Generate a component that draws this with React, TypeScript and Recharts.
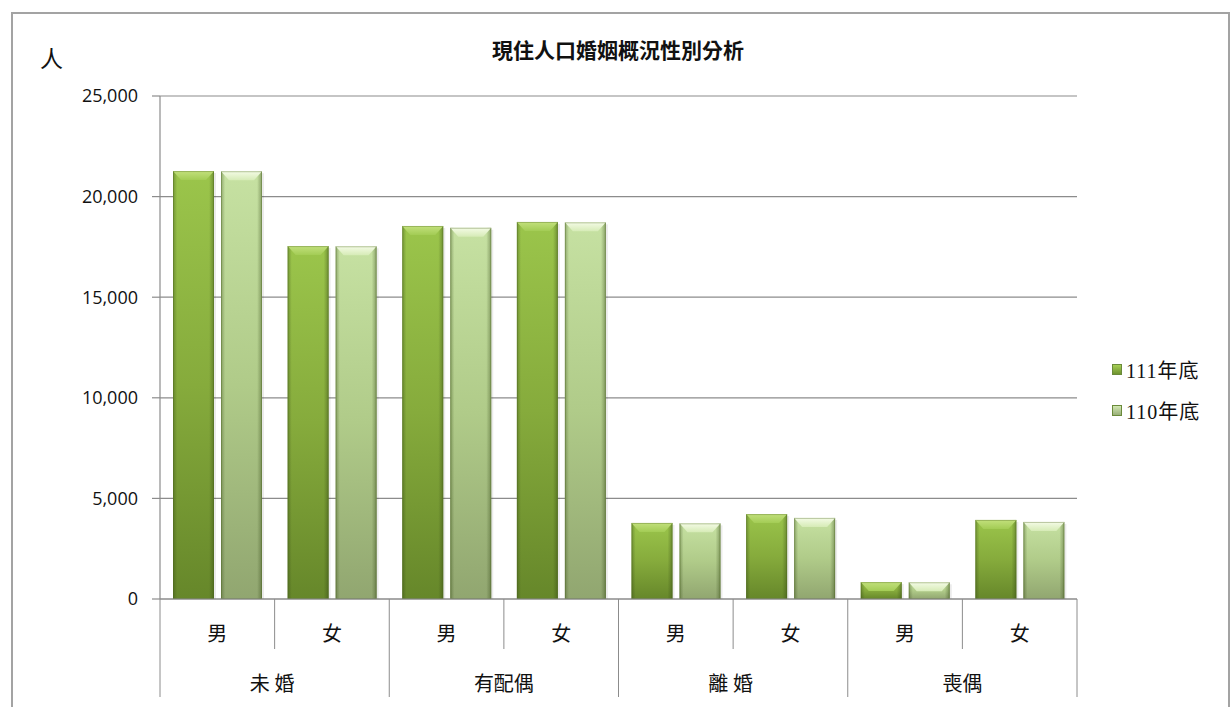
import React from "react";
import { BarChart, Bar, XAxis, YAxis, CartesianGrid, Legend } from "recharts";

const sexLabels = ["男", "女", "男", "女", "男", "女", "男", "女"];
const groupLabels = ["未婚", "未婚", "有配偶", "有配偶", "離婚", "離婚", "喪偶", "喪偶"];
const year111 = [21270, 17540, 18540, 18740, 3780, 4220, 840, 3930];
const year110 = [21260, 17530, 18450, 18720, 3760, 4030, 830, 3830];
const yTicks = [0, 5000, 10000, 15000, 20000, 25000];

const data = sexLabels.map((sex, i) => ({
  key: `${groupLabels[i]}-${sex}-${i}`,
  sex,
  group: groupLabels[i],
  y111: year111[i],
  y110: year110[i],
}));

const GRID = "#8c8c8c";
const CJK = "'Noto Sans CJK TC', 'Noto Sans CJK SC', sans-serif";
const spacedGroups = ["未婚", "離婚"];

function makeBevelBar(kind: string) {
  return (props: any) => {
    const { x, y, width, height } = props;
    if (!height || height <= 0) return <g />;
    const b = Math.min(9, height);
    const inset = Math.min(8, width / 4);
    return (
      <g>
        <rect x={x} y={y} width={width} height={height} fill={`url(#body${kind})`} />
        <rect x={x} y={y} width={width} height={height} fill="url(#sideShade)" />
        <polygon
          points={`${x},${y} ${x + width},${y} ${x + width - inset},${y + b} ${x + inset},${y + b}`}
          fill={`url(#top${kind})`}
        />
        <rect
          x={x + 0.5}
          y={y + 0.5}
          width={width - 1}
          height={height - 1}
          fill="none"
          stroke="#4d6620"
          strokeOpacity={0.35}
        />
        <rect x={x + width} y={y + 2} width={2} height={height - 2} fill="#000" fillOpacity={0.08} />
      </g>
    );
  };
}

function XTick(props: any) {
  const { x, y, payload, index } = props;
  const off = payload && payload.offset ? payload.offset : (1077 - 160) / 16;
  const left = x - off;
  const isGroupStart = index % 2 === 0;
  return (
    <g>
      <line x1={left} y1={y} x2={left} y2={y + (isGroupStart ? 98 : 50)} stroke={GRID} strokeWidth={1} />
      {index === sexLabels.length - 1 && (
        <line x1={x + off} y1={y} x2={x + off} y2={y + 98} stroke={GRID} strokeWidth={1} />
      )}
      <text x={x} y={y + 33} textAnchor="middle" dominantBaseline="central" fontSize={20} fontFamily={CJK} fill="#111">
        {sexLabels[index]}
      </text>
      {index % 2 === 1 && (
        <text
          x={left}
          y={y + 83}
          textAnchor="middle"
          dominantBaseline="central"
          fontSize={20}
          fontFamily={CJK}
          fill="#111"
          letterSpacing={spacedGroups.includes(groupLabels[index]) ? 5 : 0}
        >
          {groupLabels[index]}
        </text>
      )}
    </g>
  );
}

function LegendContent() {
  const items = [
    { label: "111年底", top: "#a6cf55", bottom: "#6f932f" },
    { label: "110年底", top: "#d2e8b2", bottom: "#98ae78" },
  ];
  return (
    <div>
      {items.map((it) => (
        <div key={it.label} style={{ display: "flex", alignItems: "center", height: 41 }}>
          <span
            style={{
              width: 10,
              height: 11,
              marginRight: 4,
              background: `linear-gradient(${it.top}, ${it.bottom})`,
              border: "1px solid #6a8a3a",
              boxSizing: "border-box",
            }}
          />
          <span
            style={{
              fontSize: 20,
              letterSpacing: 1,
              color: "#111",
              fontFamily: "'Liberation Serif', 'Noto Sans CJK TC', serif",
            }}
          >
            {it.label}
          </span>
        </div>
      ))}
    </div>
  );
}

export default function App() {
  return (
    <div
      style={{
        position: "absolute",
        left: 0,
        top: 0,
        width: 1232,
        height: 707,
        overflow: "hidden",
        background: "#fff",
      }}
    >
      <div
        style={{
          position: "absolute",
          left: 11,
          top: 12,
          width: 1215,
          height: 760,
          border: "2px solid #a3a3a3",
        }}
      />
      <div
        style={{
          position: "absolute",
          left: 0,
          width: 1232,
          top: 34,
          textAlign: "center",
          fontSize: 21,
          fontWeight: "bold",
          fontFamily: CJK,
          color: "#111",
          paddingLeft: 2,
        }}
      >
        現住人口婚姻概況性別分析
      </div>
      <div
        style={{
          position: "absolute",
          left: 40,
          top: 40,
          fontSize: 23,
          fontFamily: CJK,
          color: "#111",
        }}
      >
        人
      </div>
      <BarChart
        width={1232}
        height={707}
        data={data}
        margin={{ top: 96, right: 45, bottom: 0, left: 10 }}
        barCategoryGap={13}
        barGap={7}
      >
        <defs>
          <linearGradient id="body111" x1="0" y1="0" x2="0" y2="1">
            <stop offset="0" stopColor="#9bc54b" />
            <stop offset="0.5" stopColor="#86ab3c" />
            <stop offset="1" stopColor="#66872a" />
          </linearGradient>
          <linearGradient id="top111" x1="0" y1="0" x2="0" y2="1">
            <stop offset="0" stopColor="#c2e07c" />
            <stop offset="1" stopColor="#a3cc55" />
          </linearGradient>
          <linearGradient id="body110" x1="0" y1="0" x2="0" y2="1">
            <stop offset="0" stopColor="#c6e1a2" />
            <stop offset="0.5" stopColor="#b0cb89" />
            <stop offset="1" stopColor="#91a670" />
          </linearGradient>
          <linearGradient id="top110" x1="0" y1="0" x2="0" y2="1">
            <stop offset="0" stopColor="#f4fbe6" />
            <stop offset="1" stopColor="#d6ebb6" />
          </linearGradient>
          <linearGradient id="sideShade" x1="0" y1="0" x2="1" y2="0">
            <stop offset="0" stopColor="#2d4010" stopOpacity={0.35} />
            <stop offset="0.1" stopColor="#2d4010" stopOpacity={0} />
            <stop offset="0.88" stopColor="#2d4010" stopOpacity={0} />
            <stop offset="1" stopColor="#2d4010" stopOpacity={0.4} />
          </linearGradient>
        </defs>
        <CartesianGrid vertical={false} stroke={GRID} strokeWidth={1.2} />
        <XAxis
          dataKey="key"
          interval={0}
          height={108}
          tickSize={0}
          tickMargin={0}
          tickLine={false}
          axisLine={{ stroke: GRID, strokeWidth: 1.2 }}
          tick={<XTick />}
        />
        <YAxis
          width={150}
          domain={[0, 25000]}
          ticks={yTicks}
          tickSize={8}
          tickMargin={14}
          interval={0}
          axisLine={{ stroke: GRID, strokeWidth: 1.2 }}
          tickLine={{ stroke: GRID, strokeWidth: 1.2 }}
          tickFormatter={(v: number) => v.toLocaleString("en-US")}
          tick={{ fontSize: 18, fill: "#111", fontFamily: "'Open Sans', sans-serif" }}
        />
        <Legend
          layout="vertical"
          align="right"
          verticalAlign="middle"
          content={<LegendContent />}
          wrapperStyle={{ left: 1112, top: 349, right: "auto", width: 110 }}
        />
        <Bar dataKey="y111" name="111年底" fill="#8ab33f" shape={makeBevelBar("111")} isAnimationActive={false} />
        <Bar dataKey="y110" name="110年底" fill="#b9d494" shape={makeBevelBar("110")} isAnimationActive={false} />
      </BarChart>
    </div>
  );
}
